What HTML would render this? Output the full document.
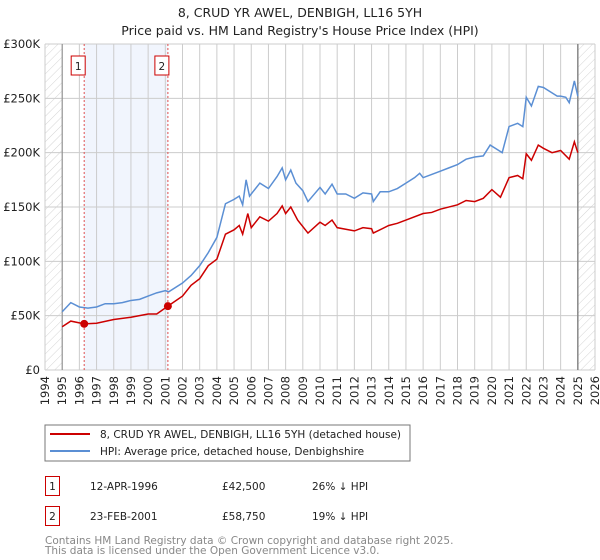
<!DOCTYPE html>
<html><head><meta charset="utf-8"><style>
body{margin:0;background:#fff;width:600px;height:560px;overflow:hidden;font-family:"DejaVu Sans","Liberation Sans",sans-serif}
svg{display:block}
text{font-family:"DejaVu Sans","Liberation Sans",sans-serif}
</style></head><body>
<svg id="chart" width="600" height="560">
<defs><pattern id="hatch" width="6" height="6" patternUnits="userSpaceOnUse" patternTransform="rotate(45)"><line x1="0" y1="0" x2="0" y2="6" stroke="#d4d4d4" stroke-width="1"/></pattern></defs>
<text x="300" y="17" text-anchor="middle" font-size="12.5" fill="#222">8, CRUD YR AWEL, DENBIGH, LL16 5YH</text>
<text x="300" y="35" text-anchor="middle" font-size="12.5" fill="#222">Price paid vs. HM Land Registry's House Price Index (HPI)</text>
<g id="grid"></g><g id="series"></g><g id="axes"></g>
<rect x="45" y="425" width="365" height="36" fill="#fff" stroke="#777"/>
<line x1="50" y1="434" x2="90" y2="434" stroke="#cc0000" stroke-width="2"/>
<text x="100" y="438" font-size="10.5" fill="#222">8, CRUD YR AWEL, DENBIGH, LL16 5YH (detached house)</text>
<line x1="50" y1="451" x2="90" y2="451" stroke="#5b8fd4" stroke-width="2"/>
<text x="100" y="455" font-size="10.5" fill="#222">HPI: Average price, detached house, Denbighshire</text>
<g>
<rect x="45.5" y="476.5" width="14" height="19" fill="#fff" stroke="#cc0000"/>
<text x="52.5" y="490" text-anchor="middle" font-size="10.5" fill="#222">1</text>
<text x="90" y="490" font-size="10.5" fill="#222">12-APR-1996</text>
<text x="222" y="490" font-size="10.5" fill="#222">£42,500</text>
<text x="312" y="490" font-size="10.5" fill="#222">26% ↓ HPI</text></g>
<g>
<rect x="45.5" y="506.5" width="14" height="19" fill="#fff" stroke="#cc0000"/>
<text x="52.5" y="520" text-anchor="middle" font-size="10.5" fill="#222">2</text>
<text x="90" y="520" font-size="10.5" fill="#222">23-FEB-2001</text>
<text x="222" y="520" font-size="10.5" fill="#222">£58,750</text>
<text x="312" y="520" font-size="10.5" fill="#222">19% ↓ HPI</text></g>
<text x="45" y="544" font-size="10.5" fill="#888">Contains HM Land Registry data © Crown copyright and database right 2025.</text>
<text x="45" y="554" font-size="10.5" fill="#888">This data is licensed under the Open Government Licence v3.0.</text>
</svg>
<script>
const hpiYears=[1995.0,1995.5,1996.0,1996.5,1997.0,1997.5,1998.0,1998.5,1999.0,1999.5,2000.0,2000.5,2001.0,2001.2,2002.0,2002.5,2003.0,2003.5,2004.0,2004.5,2005.0,2005.3,2005.5,2005.7,2005.9,2006.5,2007.0,2007.5,2007.8,2008.0,2008.3,2008.6,2009.0,2009.3,2010.0,2010.3,2010.7,2011.0,2011.5,2012.0,2012.5,2013.0,2013.1,2013.5,2014.0,2014.5,2015.0,2015.5,2015.8,2016.0,2016.5,2017.0,2017.5,2018.0,2018.5,2019.0,2019.5,2019.9,2020.3,2020.6,2021.0,2021.5,2021.8,2022.0,2022.3,2022.7,2023.0,2023.5,2023.8,2024.0,2024.3,2024.5,2024.8,2025.0];
const hpiValues=[53.6,62,58,57,58,61,61,62,64,65,68,71,73,72,80,87,96,108,122,153,157,160,152,175,160,172,167,178,186,175,184,172,165,155,168,162,171,162,162,158,163,162,155,164,164,167,172,177,181,177,180,183,186,189,194,196,197,207,203,200,224,227,224,251,243,261,260,255,252,252,251,246,266,252];
const propYears=[1995.0,1995.5,1996.28,1997.0,1998.0,1999.0,2000.0,2000.5,2001.15,2002.0,2002.5,2003.0,2003.5,2004.0,2004.5,2005.0,2005.3,2005.5,2005.8,2006.0,2006.5,2007.0,2007.5,2007.8,2008.0,2008.3,2008.7,2009.3,2010.0,2010.3,2010.7,2011.0,2012.0,2012.5,2013.0,2013.1,2014.0,2014.5,2015.0,2016.0,2016.5,2017.0,2018.0,2018.5,2019.0,2019.5,2020.0,2020.5,2021.0,2021.5,2021.8,2022.0,2022.3,2022.7,2023.0,2023.5,2024.0,2024.5,2024.8,2025.0];
const propValues=[39.8,45,42.5,43,46.5,48.5,51.5,51.5,58.75,68,78,84,96,102,125,129,133,125,144,131,141,137,144,151,144,150,138,126,136,133,138,131,128,131,130,126,133,135,138,144,145,148,152,156,155,158,166,159,177,179,176,199,193,207,204,200,202,194,210,200];
const saleYears=[1996.28,2001.15];
const saleValues=[42.5,58.75];
const saleLabels=["1","2"];
const yTicks=[0,50,100,150,200,250,300];
const yTickLabels=["£0","£50K","£100K","£150K","£200K","£250K","£300K"];
const xStart=1994,xEnd=2026;
const X=y=>45+(y-xStart)*(550/(xEnd-xStart));
const Y=v=>370-v*(326/300);
const NS="http://www.w3.org/2000/svg";
function mk(parent,tag,attrs){const e=document.createElementNS(NS,tag);for(const k in attrs)e.setAttribute(k,attrs[k]);parent.appendChild(e);return e;}
const grid=document.getElementById('grid'),series=document.getElementById('series'),axes=document.getElementById('axes');
const bg=mk(grid,'rect',{x:45,y:Y(300),width:550,height:Y(0)-Y(300),fill:'#fff'});


const h1=mk(grid,'rect',{x:X(1994),y:Y(300),width:X(1995)-X(1994),height:Y(0)-Y(300),fill:'url(#hatch)'});


const h2=mk(grid,'rect',{x:X(2025),y:Y(300),width:X(2026)-X(2025),height:Y(0)-Y(300),fill:'url(#hatch)'});


const shade=mk(grid,'rect',{x:X(saleYears[0]),y:Y(300),width:X(saleYears[1])-X(saleYears[0]),height:Y(0)-Y(300),fill:'#eef3fc',opacity:0.8});


for(let yr=xStart;yr<=xEnd;yr++){
 const l=mk(grid,'line',{x1:X(yr),x2:X(yr),y1:Y(300),y2:Y(0),stroke:'#ccc','stroke-width':1});
 
 
 const t=mk(axes,'text',{transform:`translate(${X(yr)+4},376) rotate(-90)`,'text-anchor':'end','font-size':'11.5',fill:'#222'});
 t.textContent=yr;
 
 
}
yTicks.forEach((v,i)=>{
 const l=mk(grid,'line',{x1:45,x2:595,y1:Y(v),y2:Y(v),stroke:'#ccc','stroke-width':1});
 
 
 const t=mk(axes,'text',{x:40,y:Y(v)+4,'text-anchor':'end','font-size':'11.5',fill:'#222'});
 t.textContent=yTickLabels[i];
 
 
});
const ax1=mk(grid,'line',{x1:X(1995),x2:X(1995),y1:Y(300),y2:Y(0),stroke:'#888','stroke-width':1});


const ax2=mk(grid,'line',{x1:X(2025),x2:X(2025),y1:Y(300),y2:Y(0),stroke:'#888','stroke-width':1.5});


const hp=mk(series,'polyline',{points:hpiYears.map((y,i)=>X(y)+','+Y(hpiValues[i])).join(' '),fill:'none',stroke:'#5b8fd4','stroke-width':1.5});


const pp=mk(series,'polyline',{points:propYears.map((y,i)=>X(y)+','+Y(propValues[i])).join(' '),fill:'none',stroke:'#cc0000','stroke-width':1.5});


saleYears.forEach((y,i)=>{
 const v=mk(series,'line',{x1:X(y),x2:X(y),y1:Y(300),y2:Y(0),stroke:'#e05050','stroke-width':1,'stroke-dasharray':'2,2'});
 
 
 const c=mk(series,'circle',{cx:X(y),cy:Y(saleValues[i]),r:4,fill:'#cc0000'});
 
 
 const b=mk(series,'rect',{x:X(y)-13,y:56,width:14,height:19,fill:'#fff',stroke:'#cc0000'});
 
 
 const t=mk(series,'text',{x:X(y)-6,y:70,'text-anchor':'middle','font-size':'10.5',fill:'#222'});
 t.textContent=saleLabels[i];
 
 
});
</script>
</body></html>
